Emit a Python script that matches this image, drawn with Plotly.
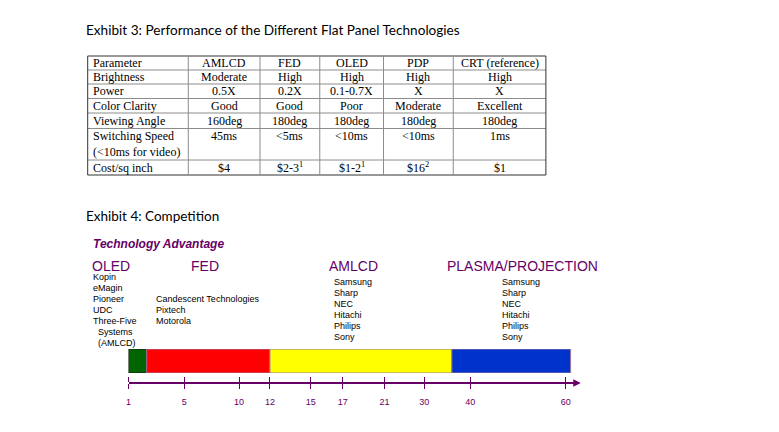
import numpy as np
import plotly.graph_objects as go

W, H = 779, 432
PAD = 8                      # browser body margin around the plot div
FW, FH = W - 2 * PAD, H - 2 * PAD

# ---- Exhibit 3: table ----
header = ["Parameter", "AMLCD", "FED", "OLED", "PDP", "CRT (reference)"]
params = ["Brightness", "Power", "Color Clarity", "Viewing Angle",
          "Switching Speed<br>(&lt;10ms for video)", "Cost/sq inch"]
amlcd = ["Moderate", "0.5X", "Good", "160deg", "45ms", "$4"]
fed = ["High", "0.2X", "Good", "180deg", "&lt;5ms", "$2-3<sup>1</sup>"]
oled = ["High", "0.1-0.7X", "Poor", "180deg", "&lt;10ms", "$1-2<sup>1</sup>"]
pdp = ["High", "X", "Moderate", "180deg", "&lt;10ms", "$16<sup>2</sup>"]
crt = ["High", "X", "Excellent", "180deg", "1ms", "$1"]

# ---- Exhibit 4: timeline ----
tick_labels = [1, 5, 10, 12, 15, 17, 21, 30, 40, 60]
tick_px = [0, 56, 111, 142, 183, 215, 257, 297, 343, 439]   # hand-spaced axis
techs = ["OLED", "FED", "AMLCD", "PLASMA/PROJECTION"]
seg_start = [1, 2.3, 12, 36]
seg_end = [2.3, 12, 36, 61]
seg_colors = ["#006400", "#ff0000", "#ffff00", "#0033cc"]

oled_cos = ["Kopin", "eMagin", "Pioneer", "UDC", "Three-Five",
            "\u00a0\u00a0Systems", "\u00a0\u00a0(AMLCD)"]
fed_cos = ["Candescent Technologies", "Pixtech", "Motorola"]
amlcd_cos = ["Samsung", "Sharp", "NEC", "Hitachi", "Philips", "Sony"]
plasma_cos = ["Samsung", "Sharp", "NEC", "Hitachi", "Philips", "Sony"]

PURPLE = "#660066"

# table geometry (page pixels)
col_x = [85, 186, 258, 318, 382, 452, 545]
row_y = [56, 70, 84, 98.5, 113, 128.5, 160, 175]


def to_axis(v):
    v = np.asarray(v, float)
    out = np.interp(v, tick_labels, tick_px)
    slope = (tick_px[-1] - tick_px[-2]) / (tick_labels[-1] - tick_labels[-2])
    return np.where(v > tick_labels[-1], tick_px[-1] + (v - tick_labels[-1]) * slope, out)


def fx(x):
    return (x - PAD) / FW


def fy(y):
    return 1 - (y - PAD) / FH


def px(x, y):
    return dict(x=fx(x), y=fy(y), xref="paper", yref="paper")


fig = go.Figure()

# bars
starts = to_axis(seg_start)
ends = to_axis(seg_end)
for name, s, e, c in zip(techs, starts, ends, seg_colors):
    fig.add_trace(go.Bar(
        y=["t"], x=[e - s], base=[s], orientation="h", width=1, name=name,
        marker=dict(color=c, line=dict(color="#1a1a1a" if c == "#006400" else "#9a7a9e", width=1)),
        hoverinfo="name",
    ))

fig.update_layout(
    width=FW, height=FH, margin=dict(l=0, r=0, t=0, b=0),
    paper_bgcolor="white", plot_bgcolor="rgba(0,0,0,0)",
    showlegend=False, barmode="overlay",
    xaxis=dict(domain=[fx(126), fx(578)], range=[0, 452], anchor="free",
               position=fy(383), showgrid=False, zeroline=False,
               showline=True, linecolor=PURPLE, linewidth=1.5,
               tickmode="array", tickvals=tick_px, ticktext=[str(t) for t in tick_labels],
               ticks="outside", ticklen=5, tickwidth=1.2, tickcolor=PURPLE,
               ticklabelstandoff=5,
               minor=dict(tickmode="array", tickvals=tick_px, ticks="inside",
                          ticklen=5, tickwidth=1.2, tickcolor=PURPLE),
               tickfont=dict(family="Liberation Sans", size=9, color=PURPLE)),
    yaxis=dict(domain=[fy(373), fy(349)], range=[-0.5, 0.5],
               visible=False, type="category"),
)

shapes = []
ann = []

# table grid
for i, y in enumerate(row_y):
    outer = i in (0, len(row_y) - 1)
    shapes.append(dict(type="line", xref="paper", yref="paper",
                       x0=fx(col_x[0]), x1=fx(col_x[-1]), y0=fy(y), y1=fy(y),
                       line=dict(color="#333333" if outer else "#8c8c8c", width=1)))
for j, x in enumerate(col_x):
    outer = j in (0, len(col_x) - 1)
    shapes.append(dict(type="line", xref="paper", yref="paper",
                       x0=fx(x), x1=fx(x), y0=fy(row_y[0]), y1=fy(row_y[-1]),
                       line=dict(color="#333333" if outer else "#8c8c8c", width=1)))

# table text
columns = [params, amlcd, fed, oled, pdp, crt]
tfont = dict(family="Liberation Serif", size=12, color="black")
for j, (head, col) in enumerate(zip(header, columns)):
    cells = [head] + col
    for i, txt in enumerate(cells):
        yc = (row_y[i] + row_y[i + 1]) / 2
        if j == 0:
            ann.append(dict(text=txt, xanchor="left", yanchor="middle", align="left",
                            showarrow=False, font=tfont, **px(col_x[0] + 3, yc)))
        else:
            xc = (col_x[j] + col_x[j + 1]) / 2
            yy = row_y[i] + 7.5 if i == 5 else yc
            ann.append(dict(text=txt, xanchor="center", yanchor="middle",
                            showarrow=False, font=tfont, **px(xc, yy)))

ann.append(dict(text="Exhibit 3: Performance of the Different Flat Panel Technologies",
                xanchor="left", yanchor="middle", showarrow=False,
                font=dict(family="Lato", size=13.6, color="black"), **px(81, 30)))
ann.append(dict(text="Exhibit 4: Competition", xanchor="left", yanchor="middle",
                showarrow=False, font=dict(family="Lato", size=13.5, color="black"), **px(81, 216)))
ann.append(dict(text="<b><i>Technology Advantage</i></b>", xanchor="left", yanchor="middle",
                showarrow=False, font=dict(family="Liberation Sans", size=12, color=PURPLE),
                **px(88, 244)))

heads_xy = [(87, 266), (187, 266), (325, 266), (444, 266)]
for t, (hx, hy) in zip(techs, heads_xy):
    ann.append(dict(text=t, xanchor="left", yanchor="middle", showarrow=False,
                    font=dict(family="Liberation Sans", size=14, color=PURPLE), **px(hx, hy)))

groups = [(oled_cos, 88, 277), (fed_cos, 152, 299), (amlcd_cos, 330, 282), (plasma_cos, 499, 282)]
for names, gx, gy in groups:
    for i, n in enumerate(names):
        ann.append(dict(text=n, xanchor="left", yanchor="middle", showarrow=False,
                        font=dict(family="Liberation Sans", size=9, color="black"),
                        **px(gx, gy + i * 11)))

# arrow head at the end of the axis line
ann.append(dict(x=fx(580), y=fy(383), xref="paper", yref="paper",
                ax=-10, ay=0, text="", showarrow=True, arrowhead=2,
                arrowsize=1, arrowwidth=1.5, arrowcolor=PURPLE))
fig.update_layout(annotations=ann, shapes=shapes)

fig.write_html("out.html")
